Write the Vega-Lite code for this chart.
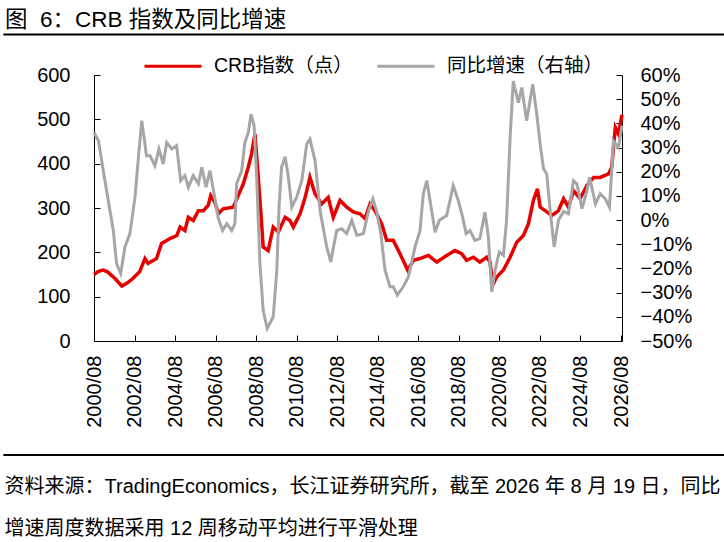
{
  "$schema": "https://vega.github.io/schema/vega-lite/v6.json",
  "width": 528,
  "height": 266,
  "autosize": "none",
  "padding": {"left": 94, "top": 75, "right": 102, "bottom": 201},
  "background": "white",
  "title": {
    "text": "图\u00a0 6：CRB 指数及同比增速",
    "anchor": "start",
    "frame": "group",
    "dx": -89,
    "dy": 2,
    "fontSize": 22.5,
    "fontWeight": "normal",
    "font": "Liberation Sans, Noto Sans CJK SC",
    "color": "#000"
  },
  "datasets": {
    "crb": [
      {"date": "2000-08-01", "series": "CRB指数（点）", "value": 150},
      {"date": "2000-10-20", "series": "CRB指数（点）", "value": 157},
      {"date": "2001-01-15", "series": "CRB指数（点）", "value": 160},
      {"date": "2001-04-01", "series": "CRB指数（点）", "value": 156},
      {"date": "2001-08-15", "series": "CRB指数（点）", "value": 141},
      {"date": "2001-12-15", "series": "CRB指数（点）", "value": 124},
      {"date": "2002-03-15", "series": "CRB指数（点）", "value": 130},
      {"date": "2002-07-01", "series": "CRB指数（点）", "value": 141},
      {"date": "2002-11-01", "series": "CRB指数（点）", "value": 156},
      {"date": "2003-02-05", "series": "CRB指数（点）", "value": 186},
      {"date": "2003-04-01", "series": "CRB指数（点）", "value": 175},
      {"date": "2003-09-01", "series": "CRB指数（点）", "value": 186},
      {"date": "2003-12-01", "series": "CRB指数（点）", "value": 220},
      {"date": "2004-05-01", "series": "CRB指数（点）", "value": 231},
      {"date": "2004-09-01", "series": "CRB指数（点）", "value": 238},
      {"date": "2004-11-01", "series": "CRB指数（点）", "value": 257},
      {"date": "2005-01-25", "series": "CRB指数（点）", "value": 249},
      {"date": "2005-03-28", "series": "CRB指数（点）", "value": 279},
      {"date": "2005-06-25", "series": "CRB指数（点）", "value": 272},
      {"date": "2005-09-25", "series": "CRB指数（点）", "value": 294},
      {"date": "2005-12-25", "series": "CRB指数（点）", "value": 294},
      {"date": "2006-03-20", "series": "CRB指数（点）", "value": 306},
      {"date": "2006-05-05", "series": "CRB指数（点）", "value": 328},
      {"date": "2006-07-20", "series": "CRB指数（点）", "value": 313},
      {"date": "2006-09-20", "series": "CRB指数（点）", "value": 287},
      {"date": "2006-12-15", "series": "CRB指数（点）", "value": 298},
      {"date": "2007-06-15", "series": "CRB指数（点）", "value": 302},
      {"date": "2007-09-12", "series": "CRB指数（点）", "value": 328},
      {"date": "2007-12-12", "series": "CRB指数（点）", "value": 354},
      {"date": "2008-03-12", "series": "CRB指数（点）", "value": 392},
      {"date": "2008-05-10", "series": "CRB指数（点）", "value": 422},
      {"date": "2008-07-10", "series": "CRB指数（点）", "value": 467},
      {"date": "2008-09-08", "series": "CRB指数（点）", "value": 369},
      {"date": "2008-11-08", "series": "CRB指数（点）", "value": 264},
      {"date": "2008-12-05", "series": "CRB指数（点）", "value": 212},
      {"date": "2009-03-05", "series": "CRB指数（点）", "value": 204},
      {"date": "2009-06-05", "series": "CRB指数（点）", "value": 257},
      {"date": "2009-09-05", "series": "CRB指数（点）", "value": 246},
      {"date": "2010-01-05", "series": "CRB指数（点）", "value": 279},
      {"date": "2010-04-01", "series": "CRB指数（点）", "value": 272},
      {"date": "2010-06-01", "series": "CRB指数（点）", "value": 257},
      {"date": "2010-10-01", "series": "CRB指数（点）", "value": 287},
      {"date": "2011-01-01", "series": "CRB指数（点）", "value": 324},
      {"date": "2011-03-28", "series": "CRB指数（点）", "value": 369},
      {"date": "2011-06-28", "series": "CRB指数（点）", "value": 332},
      {"date": "2011-10-25", "series": "CRB指数（点）", "value": 309},
      {"date": "2012-02-20", "series": "CRB指数（点）", "value": 324},
      {"date": "2012-05-22", "series": "CRB指数（点）", "value": 279},
      {"date": "2012-09-20", "series": "CRB指数（点）", "value": 317},
      {"date": "2013-01-18", "series": "CRB指数（点）", "value": 302},
      {"date": "2013-05-18", "series": "CRB指数（点）", "value": 291},
      {"date": "2013-09-15", "series": "CRB指数（点）", "value": 287},
      {"date": "2013-12-15", "series": "CRB指数（点）", "value": 276},
      {"date": "2014-03-15", "series": "CRB指数（点）", "value": 309},
      {"date": "2014-06-12", "series": "CRB指数（点）", "value": 294},
      {"date": "2014-10-12", "series": "CRB指数（点）", "value": 264},
      {"date": "2015-01-08", "series": "CRB指数（点）", "value": 227},
      {"date": "2015-05-08", "series": "CRB指数（点）", "value": 227},
      {"date": "2015-09-05", "series": "CRB指数（点）", "value": 197},
      {"date": "2016-01-22", "series": "CRB指数（点）", "value": 160},
      {"date": "2016-05-05", "series": "CRB指数（点）", "value": 182},
      {"date": "2016-09-01", "series": "CRB指数（点）", "value": 186},
      {"date": "2017-01-30", "series": "CRB指数（点）", "value": 193},
      {"date": "2017-06-28", "series": "CRB指数（点）", "value": 178},
      {"date": "2017-12-25", "series": "CRB指数（点）", "value": 193},
      {"date": "2018-05-22", "series": "CRB指数（点）", "value": 204},
      {"date": "2018-09-20", "series": "CRB指数（点）", "value": 197},
      {"date": "2018-12-20", "series": "CRB指数（点）", "value": 182},
      {"date": "2019-04-20", "series": "CRB指数（点）", "value": 189},
      {"date": "2019-08-15", "series": "CRB指数（点）", "value": 178},
      {"date": "2019-12-15", "series": "CRB指数（点）", "value": 189},
      {"date": "2020-02-15", "series": "CRB指数（点）", "value": 178},
      {"date": "2020-04-01", "series": "CRB指数（点）", "value": 126},
      {"date": "2020-06-12", "series": "CRB指数（点）", "value": 144},
      {"date": "2020-10-12", "series": "CRB指数（点）", "value": 160},
      {"date": "2021-02-10", "series": "CRB指数（点）", "value": 189},
      {"date": "2021-06-10", "series": "CRB指数（点）", "value": 223},
      {"date": "2021-10-08", "series": "CRB指数（点）", "value": 238},
      {"date": "2022-01-05", "series": "CRB指数（点）", "value": 264},
      {"date": "2022-04-05", "series": "CRB指数（点）", "value": 317},
      {"date": "2022-06-18", "series": "CRB指数（点）", "value": 343},
      {"date": "2022-08-05", "series": "CRB指数（点）", "value": 302},
      {"date": "2022-11-03", "series": "CRB指数（点）", "value": 294},
      {"date": "2023-03-03", "series": "CRB指数（点）", "value": 283},
      {"date": "2023-07-01", "series": "CRB指数（点）", "value": 294},
      {"date": "2023-10-01", "series": "CRB指数（点）", "value": 321},
      {"date": "2023-12-28", "series": "CRB指数（点）", "value": 302},
      {"date": "2024-03-28", "series": "CRB指数（点）", "value": 339},
      {"date": "2024-07-25", "series": "CRB指数（点）", "value": 321},
      {"date": "2024-11-25", "series": "CRB指数（点）", "value": 351},
      {"date": "2025-03-25", "series": "CRB指数（点）", "value": 369},
      {"date": "2025-07-22", "series": "CRB指数（点）", "value": 369},
      {"date": "2025-12-20", "series": "CRB指数（点）", "value": 377},
      {"date": "2026-02-15", "series": "CRB指数（点）", "value": 392},
      {"date": "2026-04-20", "series": "CRB指数（点）", "value": 482},
      {"date": "2026-06-15", "series": "CRB指数（点）", "value": 467},
      {"date": "2026-08-19", "series": "CRB指数（点）", "value": 510}
    ],
    "yoy": [
      {"date": "2000-08-01", "series": "同比增速（右轴）", "value": 0.362},
      {"date": "2000-10-20", "series": "同比增速（右轴）", "value": 0.328},
      {"date": "2001-01-15", "series": "同比增速（右轴）", "value": 0.205},
      {"date": "2001-04-15", "series": "同比增速（右轴）", "value": 0.081},
      {"date": "2001-07-15", "series": "同比增速（右轴）", "value": -0.043},
      {"date": "2001-09-12", "series": "同比增速（右轴）", "value": -0.18},
      {"date": "2001-11-25", "series": "同比增速（右轴）", "value": -0.221},
      {"date": "2002-02-10", "series": "同比增速（右轴）", "value": -0.111},
      {"date": "2002-05-10", "series": "同比增速（右轴）", "value": -0.056},
      {"date": "2002-08-10", "series": "同比增速（右轴）", "value": 0.095},
      {"date": "2002-10-10", "series": "同比增速（右轴）", "value": 0.259},
      {"date": "2002-12-10", "series": "同比增速（右轴）", "value": 0.411},
      {"date": "2003-03-05", "series": "同比增速（右轴）", "value": 0.266},
      {"date": "2003-05-08", "series": "同比增速（右轴）", "value": 0.266},
      {"date": "2003-08-05", "series": "同比增速（右轴）", "value": 0.225},
      {"date": "2003-10-15", "series": "同比增速（右轴）", "value": 0.294},
      {"date": "2004-01-01", "series": "同比增速（右轴）", "value": 0.232},
      {"date": "2004-03-03", "series": "同比增速（右轴）", "value": 0.321},
      {"date": "2004-06-03", "series": "同比增速（右轴）", "value": 0.294},
      {"date": "2004-08-28", "series": "同比增速（右轴）", "value": 0.308},
      {"date": "2004-11-10", "series": "同比增速（右轴）", "value": 0.163},
      {"date": "2005-01-25", "series": "同比增速（右轴）", "value": 0.184},
      {"date": "2005-03-28", "series": "同比增速（右轴）", "value": 0.136},
      {"date": "2005-06-25", "series": "同比增速（右轴）", "value": 0.184},
      {"date": "2005-09-25", "series": "同比增速（右轴）", "value": 0.15},
      {"date": "2005-11-25", "series": "同比增速（右轴）", "value": 0.218},
      {"date": "2006-02-10", "series": "同比增速（右轴）", "value": 0.136},
      {"date": "2006-04-22", "series": "同比增速（右轴）", "value": 0.205},
      {"date": "2006-07-20", "series": "同比增速（右轴）", "value": 0.088},
      {"date": "2006-09-20", "series": "同比增速（右轴）", "value": 0.006},
      {"date": "2006-12-05", "series": "同比增速（右轴）", "value": -0.043},
      {"date": "2007-02-18", "series": "同比增速（右轴）", "value": -0.015},
      {"date": "2007-05-18", "series": "同比增速（右轴）", "value": -0.043},
      {"date": "2007-07-15", "series": "同比增速（右轴）", "value": -0.015},
      {"date": "2007-08-15", "series": "同比增速（右轴）", "value": 0.15},
      {"date": "2007-11-15", "series": "同比增速（右轴）", "value": 0.205},
      {"date": "2008-01-10", "series": "同比增速（右轴）", "value": 0.321},
      {"date": "2008-03-12", "series": "同比增速（右轴）", "value": 0.362},
      {"date": "2008-05-01", "series": "同比增速（右轴）", "value": 0.438},
      {"date": "2008-06-25", "series": "同比增速（右轴）", "value": 0.39},
      {"date": "2008-08-10", "series": "同比增速（右轴）", "value": 0.177},
      {"date": "2008-10-08", "series": "同比增速（右轴）", "value": -0.18},
      {"date": "2008-12-05", "series": "同比增速（右轴）", "value": -0.372},
      {"date": "2009-02-15", "series": "同比增速（右轴）", "value": -0.448},
      {"date": "2009-06-05", "series": "同比增速（右轴）", "value": -0.40},
      {"date": "2009-08-08", "series": "同比增速（右轴）", "value": -0.207},
      {"date": "2009-09-20", "series": "同比增速（右轴）", "value": 0.067},
      {"date": "2009-11-02", "series": "同比增速（右轴）", "value": 0.218},
      {"date": "2010-01-05", "series": "同比增速（右轴）", "value": 0.262},
      {"date": "2010-03-05", "series": "同比增速（右轴）", "value": 0.177},
      {"date": "2010-05-05", "series": "同比增速（右轴）", "value": 0.053},
      {"date": "2010-08-01", "series": "同比增速（右轴）", "value": 0.095},
      {"date": "2010-11-01", "series": "同比增速（右轴）", "value": 0.163},
      {"date": "2011-01-30", "series": "同比增速（右轴）", "value": 0.315},
      {"date": "2011-03-28", "series": "同比增速（右轴）", "value": 0.335},
      {"date": "2011-06-28", "series": "同比增速（右轴）", "value": 0.246},
      {"date": "2011-09-28", "series": "同比增速（右轴）", "value": 0.036},
      {"date": "2012-01-25", "series": "同比增速（右轴）", "value": -0.111},
      {"date": "2012-04-05", "series": "同比增速（右轴）", "value": -0.173},
      {"date": "2012-07-22", "series": "同比增速（右轴）", "value": -0.043},
      {"date": "2012-10-20", "series": "同比增速（右轴）", "value": -0.036},
      {"date": "2013-01-18", "series": "同比增速（右轴）", "value": -0.056},
      {"date": "2013-04-20", "series": "同比增速（右轴）", "value": -0.001},
      {"date": "2013-07-20", "series": "同比增速（右轴）", "value": -0.063},
      {"date": "2013-11-15", "series": "同比增速（右轴）", "value": -0.056},
      {"date": "2014-02-15", "series": "同比增速（右轴）", "value": 0.036},
      {"date": "2014-05-05", "series": "同比增速（右轴）", "value": 0.088},
      {"date": "2014-07-12", "series": "同比增速（右轴）", "value": 0.036},
      {"date": "2014-09-25", "series": "同比增速（右轴）", "value": -0.056},
      {"date": "2014-12-10", "series": "同比增速（右轴）", "value": -0.207},
      {"date": "2015-03-10", "series": "同比增速（右轴）", "value": -0.276},
      {"date": "2015-05-08", "series": "同比增速（右轴）", "value": -0.276},
      {"date": "2015-07-20", "series": "同比增速（右轴）", "value": -0.31},
      {"date": "2015-11-03", "series": "同比增速（右轴）", "value": -0.276},
      {"date": "2016-02-03", "series": "同比增速（右轴）", "value": -0.235},
      {"date": "2016-06-03", "series": "同比增速（右轴）", "value": -0.111},
      {"date": "2016-09-01", "series": "同比增速（右轴）", "value": -0.043},
      {"date": "2016-10-30", "series": "同比增速（右轴）", "value": 0.109},
      {"date": "2017-01-01", "series": "同比增速（右轴）", "value": 0.163},
      {"date": "2017-03-10", "series": "同比增速（右轴）", "value": 0.067},
      {"date": "2017-05-30", "series": "同比增速（右轴）", "value": -0.05},
      {"date": "2017-08-15", "series": "同比增速（右轴）", "value": -0.001},
      {"date": "2017-12-25", "series": "同比增速（右轴）", "value": 0.019},
      {"date": "2018-04-22", "series": "同比增速（右轴）", "value": 0.143},
      {"date": "2018-07-22", "series": "同比增速（右轴）", "value": 0.081},
      {"date": "2018-10-08", "series": "同比增速（右轴）", "value": 0.012},
      {"date": "2018-12-10", "series": "同比增速（右轴）", "value": -0.056},
      {"date": "2019-02-18", "series": "同比增速（右轴）", "value": -0.043},
      {"date": "2019-05-18", "series": "同比增速（右轴）", "value": -0.084},
      {"date": "2019-08-15", "series": "同比增速（右轴）", "value": -0.077},
      {"date": "2019-11-15", "series": "同比增速（右轴）", "value": 0.033},
      {"date": "2020-01-15", "series": "同比增速（右轴）", "value": -0.07},
      {"date": "2020-03-15", "series": "同比增速（右轴）", "value": -0.297},
      {"date": "2020-05-15", "series": "同比增速（右轴）", "value": -0.207},
      {"date": "2020-07-30", "series": "同比增速（右轴）", "value": -0.132},
      {"date": "2020-10-12", "series": "同比增速（右轴）", "value": -0.146},
      {"date": "2020-12-08", "series": "同比增速（右轴）", "value": -0.001},
      {"date": "2021-02-10", "series": "同比增速（右轴）", "value": 0.342},
      {"date": "2021-04-08", "series": "同比增速（右轴）", "value": 0.575},
      {"date": "2021-07-08", "series": "同比增速（右轴）", "value": 0.486},
      {"date": "2021-09-08", "series": "同比增速（右轴）", "value": 0.548},
      {"date": "2021-12-05", "series": "同比增速（右轴）", "value": 0.411},
      {"date": "2022-03-25", "series": "同比增速（右轴）", "value": 0.562},
      {"date": "2022-06-05", "series": "同比增速（右轴）", "value": 0.438},
      {"date": "2022-08-05", "series": "同比增速（右轴）", "value": 0.315},
      {"date": "2022-10-05", "series": "同比增速（右轴）", "value": 0.212},
      {"date": "2022-12-01", "series": "同比增速（右轴）", "value": 0.191},
      {"date": "2023-02-03", "series": "同比增速（右轴）", "value": 0.036},
      {"date": "2023-04-15", "series": "同比增速（右轴）", "value": -0.111},
      {"date": "2023-07-01", "series": "同比增速（右轴）", "value": -0.001},
      {"date": "2023-10-01", "series": "同比增速（右轴）", "value": 0.036},
      {"date": "2023-12-28", "series": "同比增速（右轴）", "value": 0.026},
      {"date": "2024-03-28", "series": "同比增速（右轴）", "value": 0.163},
      {"date": "2024-05-28", "series": "同比增速（右轴）", "value": 0.15},
      {"date": "2024-08-28", "series": "同比增速（右轴）", "value": 0.047},
      {"date": "2024-11-25", "series": "同比增速（右轴）", "value": 0.122},
      {"date": "2025-01-12", "series": "同比增速（右轴）", "value": 0.177},
      {"date": "2025-04-28", "series": "同比增速（右轴）", "value": 0.067},
      {"date": "2025-07-22", "series": "同比增速（右轴）", "value": 0.109},
      {"date": "2025-10-22", "series": "同比增速（右轴）", "value": 0.088},
      {"date": "2026-01-05", "series": "同比增速（右轴）", "value": 0.053},
      {"date": "2026-02-15", "series": "同比增速（右轴）", "value": 0.205},
      {"date": "2026-03-18", "series": "同比增速（右轴）", "value": 0.328},
      {"date": "2026-06-15", "series": "同比增速（右轴）", "value": 0.30},
      {"date": "2026-08-19", "series": "同比增速（右轴）", "value": 0.39}
    ]
  },
  "layer": [
    {
      "layer": [
        {
          "data": {"name": "crb"},
          "mark": {"type": "line", "strokeWidth": 3.5, "interpolate": "linear"},
          "encoding": {
            "x": {
              "field": "date",
              "type": "temporal",
              "scale": {"type": "utc", "domain": [{"year": 2000, "month": 8, "date": 1, "utc": true}, {"year": 2026, "month": 8, "date": 19, "utc": true}]},
              "axis": {
                "values": [
                  {"year": 2000, "month": 8, "date": 1, "utc": true},
                  {"year": 2002, "month": 8, "date": 1, "utc": true},
                  {"year": 2004, "month": 8, "date": 1, "utc": true},
                  {"year": 2006, "month": 8, "date": 1, "utc": true},
                  {"year": 2008, "month": 8, "date": 1, "utc": true},
                  {"year": 2010, "month": 8, "date": 1, "utc": true},
                  {"year": 2012, "month": 8, "date": 1, "utc": true},
                  {"year": 2014, "month": 8, "date": 1, "utc": true},
                  {"year": 2016, "month": 8, "date": 1, "utc": true},
                  {"year": 2018, "month": 8, "date": 1, "utc": true},
                  {"year": 2020, "month": 8, "date": 1, "utc": true},
                  {"year": 2022, "month": 8, "date": 1, "utc": true},
                  {"year": 2024, "month": 8, "date": 1, "utc": true},
                  {"year": 2026, "month": 8, "date": 1, "utc": true}
                ],
                "format": "%Y/%m",
                "labelAngle": -90,
                "labelPadding": 20,
                "labelFlush": false,
                "labelOverlap": false,
                "title": ["资料来源：TradingEconomics，长江证券研究所，截至 2026 年 8 月 19 日，同比", "增速周度数据采用 12 周移动平均进行平滑处理"],
                "titleX": -90,
                "titleY": 151,
                "titleAlign": "left",
                "titleAnchor": "start",
                "titleBaseline": "alphabetic",
                "titleAngle": 0,
                "titleFontSize": 20,
                "titleFontWeight": "normal",
                "titleLineHeight": 42,
                "titleColor": "#000"
              }
            },
            "y": {
              "field": "value",
              "type": "quantitative",
              "scale": {"domain": [0, 600], "nice": false, "zero": false},
              "axis": {"orient": "left", "values": [0, 100, 200, 300, 400, 500, 600], "labelPadding": 30, "title": null}
            },
            "color": {
              "field": "series",
              "type": "nominal",
              "scale": {"domain": ["CRB指数（点）", "同比增速（右轴）"], "range": ["#E60000", "#A6A6A6"]},
              "legend": {"title": null}
            }
          }
        },
        {
          "data": {"values": [{}]},
          "mark": {"type": "rule", "strokeWidth": 2, "color": "#000"},
          "encoding": {
            "x": {"datum": {"year": 1996, "month": 2, "date": 10, "utc": true}, "type": "temporal"},
            "x2": {"datum": {"year": 2031, "month": 9, "date": 1, "utc": true}},
            "y": {"datum": 691.4, "type": "quantitative"}
          }
        },
        {
          "data": {"values": [{}]},
          "mark": {"type": "rule", "strokeWidth": 2, "color": "#000"},
          "encoding": {
            "x": {"datum": {"year": 1996, "month": 2, "date": 10, "utc": true}, "type": "temporal"},
            "x2": {"datum": {"year": 2031, "month": 9, "date": 1, "utc": true}},
            "y": {"datum": -257.2, "type": "quantitative"}
          }
        }
      ]
    },
    {
      "data": {"name": "yoy"},
      "mark": {"type": "line", "strokeWidth": 3},
      "encoding": {
        "x": {"field": "date", "type": "temporal"},
        "y": {
          "field": "value",
          "type": "quantitative",
          "scale": {"domain": [-0.5, 0.6], "nice": false, "zero": false},
          "axis": {"orient": "right", "values": [-0.5, -0.4, -0.3, -0.2, -0.1, 0, 0.1, 0.2, 0.3, 0.4, 0.5, 0.6], "format": ".0%", "labelPadding": 24, "title": null}
        },
        "color": {"field": "series", "type": "nominal"}
      }
    }
  ],
  "resolve": {"scale": {"y": "independent"}},
  "config": {
    "font": "Liberation Sans, Noto Sans CJK SC",
    "view": {"stroke": null},
    "axis": {
      "grid": false,
      "domainColor": "#000",
      "domainWidth": 1,
      "tickColor": "#000",
      "tickSize": -6,
      "labelColor": "#000",
      "labelFontSize": 20,
      "labelFont": "Liberation Sans, Noto Sans CJK SC",
      "titleFont": "Liberation Sans, Noto Sans CJK SC"
    },
    "legend": {
      "orient": "none",
      "legendX": 49,
      "legendY": -39,
      "direction": "horizontal",
      "symbolType": "stroke",
      "symbolSize": 3249,
      "symbolStrokeWidth": 3,
      "labelFontSize": 19.5,
      "labelColor": "#000",
      "labelFont": "Liberation Sans, Noto Sans CJK SC",
      "labelOffset": 11,
      "columnPadding": 18
    }
  }
}
